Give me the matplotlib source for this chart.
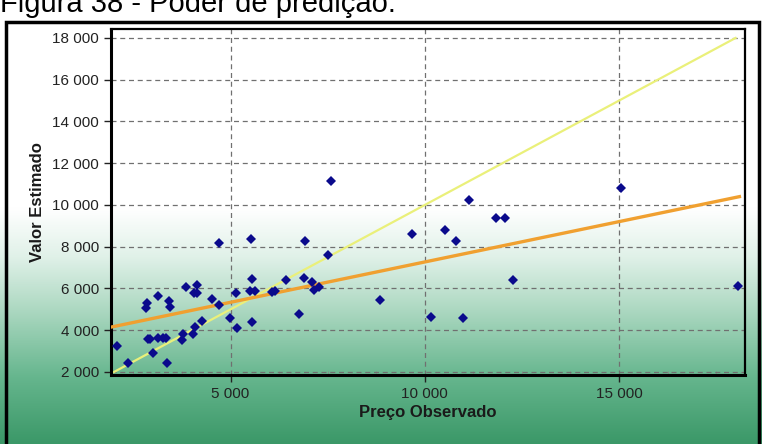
import numpy as np
import matplotlib
matplotlib.use("Agg")
import matplotlib.pyplot as plt
from matplotlib.colors import LinearSegmentedColormap
from matplotlib.patches import Rectangle
from matplotlib.ticker import FuncFormatter, MultipleLocator

plt.rcParams['font.family'] = ['Liberation Sans', 'DejaVu Sans']

preco_observado = [2086, 2354, 2843, 2825, 3126, 3425, 3435, 2869, 2928, 3142,
                   3270, 3332, 2997, 3358, 3744, 3785, 4027, 4086, 4259, 3855,
                   4130, 4068, 4130, 4516, 4704, 4712, 4987, 5175, 5130, 5528,
                   5561, 5561, 5502, 5631, 6076, 6145, 6421, 6763, 6884, 6918,
                   7106, 7142, 7286, 7502, 7577, 8856, 9664, 10161, 10521, 10797,
                   10985, 11131, 11826, 12073, 12264, 15044, 18055]
valor_estimado = [3260, 2417, 5292, 5053, 5642, 5417, 5129, 3567, 3567, 3644,
                  3644, 3644, 2896, 2417, 3533, 3807, 3807, 4171, 4458, 6059,
                  6169, 5800, 5771, 5498, 5196, 8167, 4573, 4123, 5775, 8359,
                  6442, 4410, 5867, 5882, 5848, 5867, 6394, 4779, 6504, 8292,
                  6313, 5929, 6059, 7607, 11167, 5436, 8599, 4650, 8805, 8292,
                  4573, 10242, 9380, 9380, 6423, 10832, 6136]

# reference lines
ideal_x = [2000, 18000]
ideal_y = [2000, 18000]
reg_x = [1950, 18100]
reg_y = [4160, 10400]

x_ticks = [5000, 10000, 15000]
y_ticks = [2000, 4000, 6000, 8000, 10000, 12000, 14000, 16000, 18000]

W, H = 762, 444
fig = plt.figure(figsize=(W / 100, H / 100), dpi=100)

# background gradient (white -> green)
bg = fig.add_axes([0, 0, 1, 1])
bg.axis('off')
cmap = LinearSegmentedColormap.from_list('bg', [
    (0.0, '#ffffff'), (0.47, '#ffffff'), (0.58, '#e0f1e8'),
    (0.70, '#acd8c1'), (0.85, '#66b68e'), (1.0, '#3b9868')])
grad = np.linspace(0, 1, 256).reshape(-1, 1)
bg.imshow(grad, cmap=cmap, aspect='auto', extent=[0, 1, 0, 1], origin='upper')
bg.set_xlim(0, 1)
bg.set_ylim(0, 1)
bg.add_patch(Rectangle((6 / W, -0.05), (759 - 6) / W, 1.05 - 22 / H,
                       fill=False, edgecolor='black', lw=2.5))

fig.text(0 / W, 1 - 12 / H, "Figura 38 - Poder de predição.", fontsize=21,
         va='baseline', ha='left', color='black')

ax = fig.add_axes([111 / W, (H - 375) / H, (745 - 111) / W, (375 - 29) / H])
ax.patch.set_alpha(0)

ax.plot(ideal_x, ideal_y, color='#eaf07a', lw=1.6, zorder=2)
ax.plot(reg_x, reg_y, color='#f0a030', lw=2.4, zorder=3)
ax.plot(preco_observado, valor_estimado, 'D', color='#0a0a8c', markersize=5.2,
        markeredgewidth=0, zorder=4)

ax.set_xlim(1924, 18243)
ax.set_ylim(1856, 18430)
ax.set_xticks(x_ticks)
ax.set_yticks(y_ticks)
ax.xaxis.set_minor_locator(MultipleLocator(1250))
fmt = FuncFormatter(lambda v, p: f"{int(v):,}".replace(",", " "))
ax.xaxis.set_major_formatter(fmt)
ax.yaxis.set_major_formatter(fmt)

ax.grid(True, which='major', color='#707070', linestyle=(0, (4, 3)), lw=0.9)
ax.tick_params(axis='both', which='major', labelsize=11, colors='#222222',
               length=5, width=1)
ax.tick_params(axis='x', which='minor', length=3, width=0.6, colors='#888888',
               direction='in')
for side in ['left', 'bottom']:
    ax.spines[side].set_linewidth(2.2)
for side in ['top', 'right']:
    ax.spines[side].set_linewidth(1.6)

ax.set_xlabel("Preço Observado", fontsize=12, fontweight='bold', color='#1a1a1a',
              labelpad=3)
ax.set_ylabel("Valor Estimado", fontsize=12, fontweight='bold', color='#1a1a1a',
              labelpad=5)

fig.savefig("out.png", dpi=100)
